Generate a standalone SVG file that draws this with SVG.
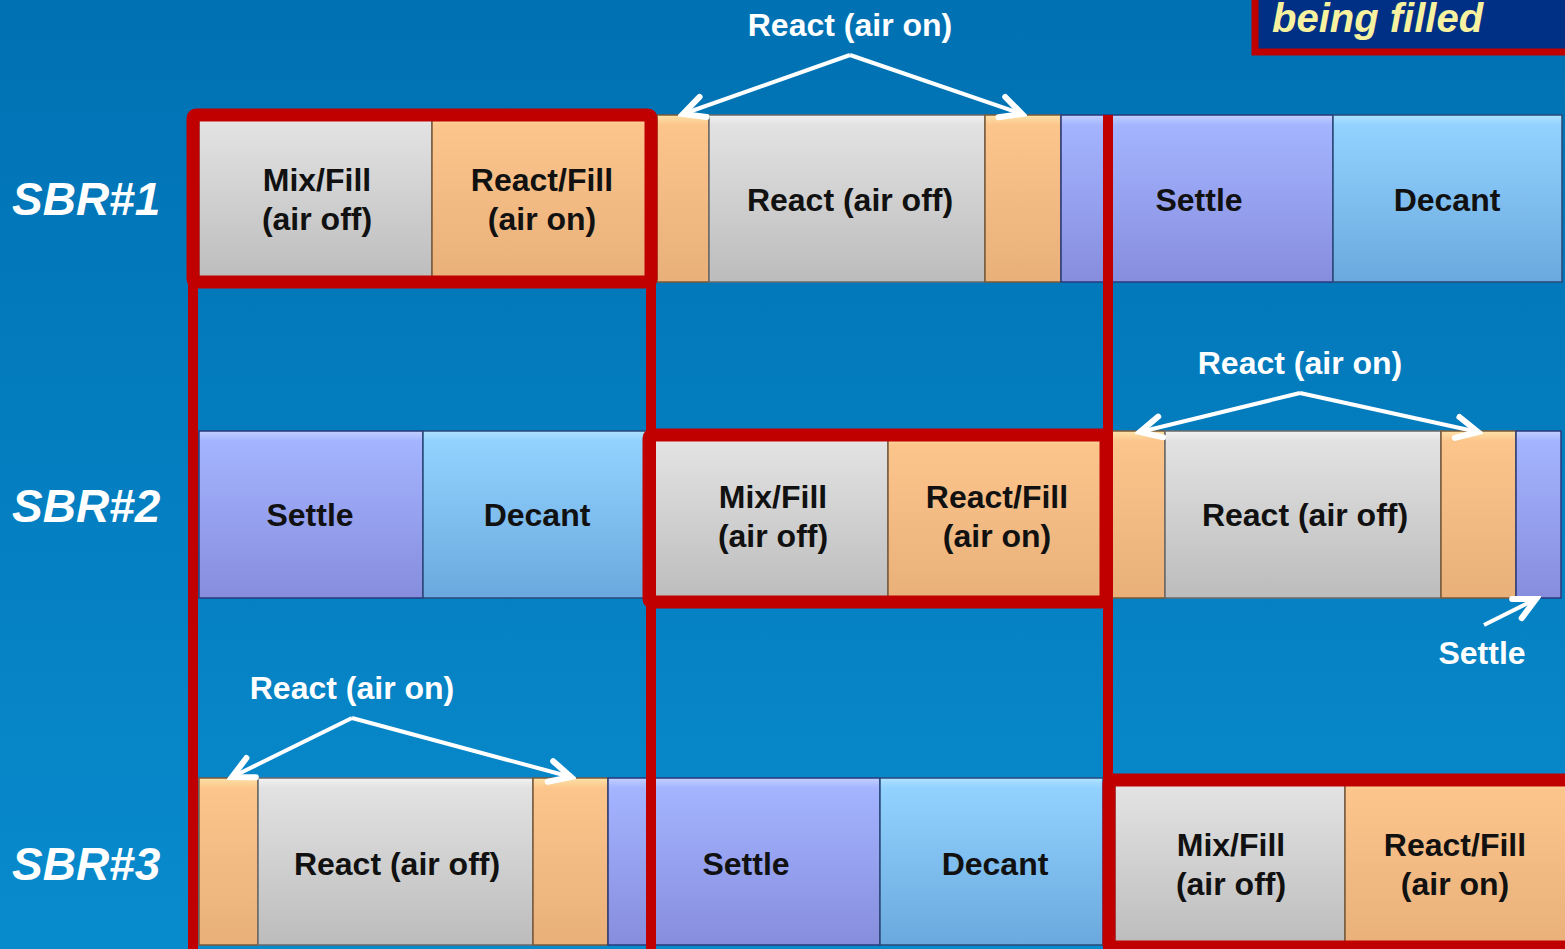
<svg xmlns="http://www.w3.org/2000/svg" width="1565" height="949" viewBox="0 0 1565 949">
<defs>
<linearGradient id="bg" x1="0" y1="0" x2="0" y2="1"><stop offset="0" stop-color="#0071b3"/><stop offset="1" stop-color="#088bcd"/></linearGradient>
<linearGradient id="gGray" x1="0" y1="0" x2="0" y2="1"><stop offset="0" stop-color="#f2f2f2"/><stop offset="0.06" stop-color="#e2e2e2"/><stop offset="1" stop-color="#bcbcbc"/></linearGradient>
<linearGradient id="gOrange" x1="0" y1="0" x2="0" y2="1"><stop offset="0" stop-color="#fde2a8"/><stop offset="0.06" stop-color="#fcc58c"/><stop offset="1" stop-color="#e9b07a"/></linearGradient>
<linearGradient id="gPurple" x1="0" y1="0" x2="0" y2="1"><stop offset="0" stop-color="#c2d0ff"/><stop offset="0.06" stop-color="#a4b4ff"/><stop offset="1" stop-color="#868ddd"/></linearGradient>
<linearGradient id="gBlue" x1="0" y1="0" x2="0" y2="1"><stop offset="0" stop-color="#b0e2ff"/><stop offset="0.06" stop-color="#92d2ff"/><stop offset="1" stop-color="#6aa9dd"/></linearGradient>
<marker id="ah" markerUnits="userSpaceOnUse" markerWidth="32" markerHeight="32" viewBox="-2 -2 24 24" refX="18" refY="10" orient="auto"><path d="M2,2 L18,10 L2,18" fill="none" stroke="#fff" stroke-width="4.5" stroke-linejoin="miter" stroke-linecap="round"/></marker>
</defs>
<style>
.gray{fill:url(#gGray);stroke:#6a6a6a;stroke-width:1.5}
.orange{fill:url(#gOrange);stroke:#7a5a3a;stroke-width:1.5}
.purple{fill:url(#gPurple);stroke:#2a3a7a;stroke-width:1.5}
.blue{fill:url(#gBlue);stroke:#2a4a7a;stroke-width:1.5}
.lbl{font-family:"Liberation Sans",Arial,sans-serif;font-weight:bold;font-size:32px;fill:#111;text-anchor:middle}
.wlbl{font-family:"Liberation Sans",Arial,sans-serif;font-weight:bold;font-size:32px;fill:#fff;text-anchor:middle}
.sbr{font-family:"Liberation Sans",Arial,sans-serif;font-weight:bold;font-style:italic;font-size:46px;fill:#fff}
.frame{fill:none;stroke:#c00000;stroke-width:13;stroke-linejoin:round}
.rline{stroke:#c00000;stroke-width:10}
.arr{stroke:#fff;stroke-width:4;fill:none;marker-end:url(#ah)}
</style>
<rect x="0" y="0" width="1565" height="949" fill="url(#bg)"/>

<g id="legend">
<rect x="1255" y="-10" width="320" height="62" fill="#002f86" stroke="#c00000" stroke-width="7"/>
<text x="1272" y="32" font-family="Liberation Sans, Arial, sans-serif" font-weight="bold" font-style="italic" font-size="40" fill="#f7f2a0">being filled</text>
</g>

<g id="labels">
<text class="sbr" x="12" y="215">SBR#1</text>
<text class="sbr" x="12" y="522">SBR#2</text>
<text class="sbr" x="12" y="880">SBR#3</text>
</g>

<!-- Row 1 -->
<g id="r1-mixfill"><rect class="gray" x="199" y="115" width="233" height="167"/><text class="lbl" x="317" y="191">Mix/Fill</text><text class="lbl" x="317" y="230">(air off)</text></g>
<g id="r1-reactfill"><rect class="orange" x="432" y="115" width="219" height="167"/><text class="lbl" x="542" y="191">React/Fill</text><text class="lbl" x="542" y="230">(air on)</text></g>
<g id="r1-on1"><rect class="orange" x="657" y="115" width="52" height="167"/></g>
<g id="r1-react"><rect class="gray" x="709" y="115" width="276" height="167"/><text class="lbl" x="850" y="211">React (air off)</text></g>
<g id="r1-on2"><rect class="orange" x="985" y="115" width="76" height="167"/></g>
<g id="r1-settle"><rect class="purple" x="1061" y="115" width="272" height="167"/><text class="lbl" x="1199" y="211">Settle</text></g>
<g id="r1-decant"><rect class="blue" x="1333" y="115" width="229" height="167"/><text class="lbl" x="1447" y="211">Decant</text></g>

<!-- Row 2 -->
<g id="r2-settle"><rect class="purple" x="199" y="431" width="224" height="167"/><text class="lbl" x="310" y="526">Settle</text></g>
<g id="r2-decant"><rect class="blue" x="423" y="431" width="226" height="167"/><text class="lbl" x="537" y="526">Decant</text></g>
<g id="r2-mixfill"><rect class="gray" x="655" y="435" width="233" height="167"/><text class="lbl" x="773" y="508">Mix/Fill</text><text class="lbl" x="773" y="547">(air off)</text></g>
<g id="r2-reactfill"><rect class="orange" x="888" y="435" width="218" height="167"/><text class="lbl" x="997" y="508">React/Fill</text><text class="lbl" x="997" y="547">(air on)</text></g>
<g id="r2-on1"><rect class="orange" x="1112" y="431" width="53" height="167"/></g>
<g id="r2-react"><rect class="gray" x="1165" y="431" width="276" height="167"/><text class="lbl" x="1305" y="526">React (air off)</text></g>
<g id="r2-on2"><rect class="orange" x="1441" y="431" width="75" height="167"/></g>
<g id="r2-settle2"><rect class="purple" x="1516" y="431" width="45" height="167"/></g>

<!-- Row 3 -->
<g id="r3-on1"><rect class="orange" x="199" y="778" width="59" height="167"/></g>
<g id="r3-react"><rect class="gray" x="258" y="778" width="275" height="167"/><text class="lbl" x="397" y="875">React (air off)</text></g>
<g id="r3-on2"><rect class="orange" x="533" y="778" width="75" height="167"/></g>
<g id="r3-settle"><rect class="purple" x="608" y="778" width="272" height="167"/><text class="lbl" x="746" y="875">Settle</text></g>
<g id="r3-decant"><rect class="blue" x="880" y="778" width="223" height="167"/><text class="lbl" x="995" y="875">Decant</text></g>
<g id="r3-mixfill"><rect class="gray" x="1115" y="780" width="230" height="167"/><text class="lbl" x="1231" y="856">Mix/Fill</text><text class="lbl" x="1231" y="895">(air off)</text></g>
<g id="r3-reactfill"><rect class="orange" x="1345" y="780" width="222" height="167"/><text class="lbl" x="1455" y="856">React/Fill</text><text class="lbl" x="1455" y="895">(air on)</text></g>

<!-- Red timeline frames -->
<g id="frames">
<line class="rline" x1="193" y1="282" x2="193" y2="949"/>
<line class="rline" x1="651" y1="282" x2="651" y2="949"/>
<line class="rline" x1="1108" y1="115" x2="1108" y2="949"/>
<rect class="frame" x="193" y="115" width="458" height="167" rx="3"/>
<rect class="frame" x="649" y="435" width="457" height="167" rx="3"/>
<rect class="frame" x="1109" y="780" width="470" height="167" rx="3"/>
</g>

<!-- Connectors -->
<g id="connectors">
<text class="wlbl" x="850" y="36">React (air on)</text>
<line class="arr" x1="850" y1="55" x2="683" y2="114"/>
<line class="arr" x1="850" y1="55" x2="1022" y2="114"/>
<text class="wlbl" x="1300" y="374">React (air on)</text>
<line class="arr" x1="1300" y1="393" x2="1140" y2="432"/>
<line class="arr" x1="1300" y1="393" x2="1478" y2="432"/>
<text class="wlbl" x="352" y="699">React (air on)</text>
<line class="arr" x1="352" y1="718" x2="232" y2="777"/>
<line class="arr" x1="352" y1="718" x2="571" y2="777"/>
<text class="wlbl" x="1482" y="664">Settle</text>
<line class="arr" x1="1484" y1="625" x2="1536" y2="599"/>
</g>
</svg>
